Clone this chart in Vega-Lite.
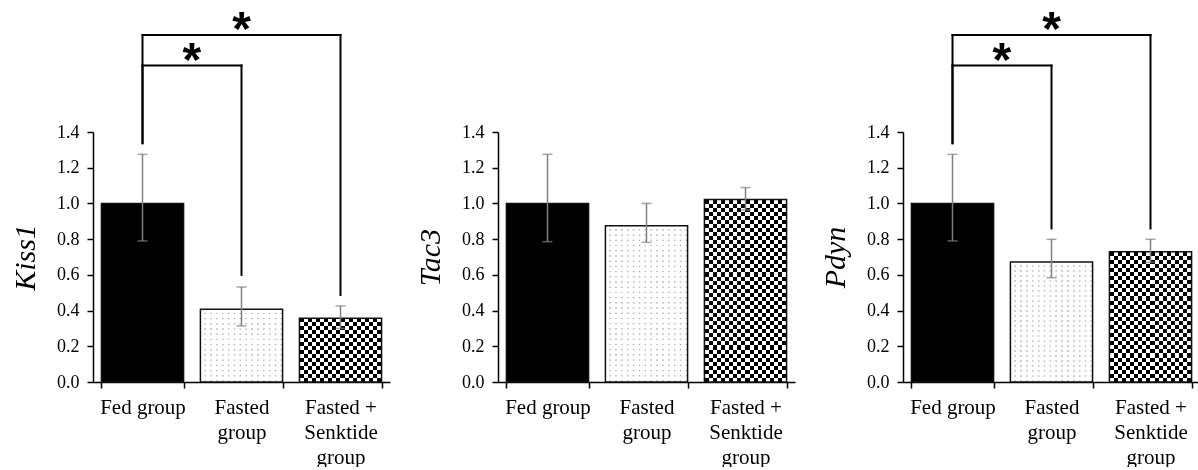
{
  "$schema": "https://vega.github.io/schema/vega-lite/v6.json",
  "background": "white",
  "padding": {"left": 10, "top": 7, "right": 0, "bottom": 0},
  "autosize": {"type": "pad"},
  "bounds": "flush",
  "spacing": 108,
  "datasets": {
    "bars": [
      {"gene": "Kiss1", "group": "Fed group", "mean": 1.0, "lo": 0.79, "hi": 1.275},
      {"gene": "Kiss1", "group": "Fasted group", "mean": 0.407, "lo": 0.314, "hi": 0.532},
      {"gene": "Kiss1", "group": "Fasted + Senktide group", "mean": 0.357, "lo": 0.3, "hi": 0.426},
      {"gene": "Tac3", "group": "Fed group", "mean": 1.0, "lo": 0.786, "hi": 1.275},
      {"gene": "Tac3", "group": "Fasted group", "mean": 0.875, "lo": 0.782, "hi": 1.0},
      {"gene": "Tac3", "group": "Fasted + Senktide group", "mean": 1.022, "lo": 0.963, "hi": 1.089},
      {"gene": "Pdyn", "group": "Fed group", "mean": 1.0, "lo": 0.79, "hi": 1.275},
      {"gene": "Pdyn", "group": "Fasted group", "mean": 0.672, "lo": 0.584, "hi": 0.799},
      {"gene": "Pdyn", "group": "Fasted + Senktide group", "mean": 0.73, "lo": 0.67, "hi": 0.799}
    ],
    "brackets": [
      {"gene": "Kiss1", "from": "Fed group", "to": "Fasted + Senktide group", "top": 1.943, "lb": 1.337, "rb": 0.487},
      {"gene": "Kiss1", "from": "Fed group", "to": "Fasted group", "top": 1.772, "lb": 1.337, "rb": 0.6},
      {"gene": "Pdyn", "from": "Fed group", "to": "Fasted + Senktide group", "top": 1.943, "lb": 1.337, "rb": 0.86},
      {"gene": "Pdyn", "from": "Fed group", "to": "Fasted group", "top": 1.772, "lb": 1.337, "rb": 0.86}
    ],
    "stars": [
      {"gene": "Kiss1", "which": "outer", "at": "Fasted group", "y": 1.887, "label": "*"},
      {"gene": "Kiss1", "which": "inner", "at": "Fed group", "y": 1.711, "label": "*"},
      {"gene": "Pdyn", "which": "outer", "at": "Fasted group", "y": 1.887, "label": "*"},
      {"gene": "Pdyn", "which": "inner", "at": "Fed group", "y": 1.711, "label": "*"}
    ]
  },
  "config": {
    "view": {"stroke": null},
    "axis": {
      "labelFont": "Liberation Serif",
      "titleFont": "Liberation Serif",
      "labelColor": "black",
      "titleColor": "black",
      "domainColor": "black",
      "tickColor": "black",
      "domainWidth": 1.5,
      "tickWidth": 1.5,
      "grid": false
    },
    "axisY": {"labelOverlap": false, "tickCount": 10, "labelFontSize": 18, "tickSize": 6, "labelPadding": 8, "titleFontSize": 30, "titleFontStyle": "italic", "titleFontWeight": "normal", "titlePadding": 16}
  },
  "hconcat": [
    {
      "width": 297, "height": 250,
      "layer": [
        {
          "data": {"name": "bars"},
          "transform": [{"filter": "datum.gene == 'Kiss1' && datum.group == 'Fasted + Senktide group'"}],
          "mark": {"type": "bar", "fill": {"gradient": "linear", "x1": 0, "y1": 0, "x2": 0, "y2": 1, "stops": [
            {"offset": 0, "color": "#000"}, {"offset": 0.0625, "color": "#000"}, {"offset": 0.0625, "color": "#fff"}, {"offset": 0.125, "color": "#fff"},
            {"offset": 0.125, "color": "#000"}, {"offset": 0.1875, "color": "#000"}, {"offset": 0.1875, "color": "#fff"}, {"offset": 0.25, "color": "#fff"},
            {"offset": 0.25, "color": "#000"}, {"offset": 0.3125, "color": "#000"}, {"offset": 0.3125, "color": "#fff"}, {"offset": 0.375, "color": "#fff"},
            {"offset": 0.375, "color": "#000"}, {"offset": 0.4375, "color": "#000"}, {"offset": 0.4375, "color": "#fff"}, {"offset": 0.5, "color": "#fff"},
            {"offset": 0.5, "color": "#000"}, {"offset": 0.5625, "color": "#000"}, {"offset": 0.5625, "color": "#fff"}, {"offset": 0.625, "color": "#fff"},
            {"offset": 0.625, "color": "#000"}, {"offset": 0.6875, "color": "#000"}, {"offset": 0.6875, "color": "#fff"}, {"offset": 0.75, "color": "#fff"},
            {"offset": 0.75, "color": "#000"}, {"offset": 0.8125, "color": "#000"}, {"offset": 0.8125, "color": "#fff"}, {"offset": 0.875, "color": "#fff"},
            {"offset": 0.875, "color": "#000"}, {"offset": 0.9375, "color": "#000"}, {"offset": 0.9375, "color": "#fff"}, {"offset": 1, "color": "#fff"}]}},
          "encoding": {
            "x": {"field": "group", "type": "nominal", "sort": null,
              "scale": {"domain": ["Fed group", "Fasted group", "Fasted + Senktide group"], "paddingInner": 0.17, "paddingOuter": 0.085},
              "axis": {"title": null, "labelAngle": 0, "tickBand": "extent", "tickSize": 6, "labelPadding": 8, "labelFontSize": 21, "labelLineHeight": 25,
                "labelExpr": "datum.value == 'Fed group' ? 'Fed group' : datum.value == 'Fasted group' ? ['Fasted', 'group'] : datum.value == 'Fasted + Senktide group' ? ['Fasted +', 'Senktide', 'group'] : ''"}},
            "y": {"field": "mean", "type": "quantitative", "scale": {"domain": [0, 1.4]},
              "axis": {"title": "Kiss1", "values": [0, 0.2, 0.4, 0.6, 0.8, 1.0, 1.2, 1.4], "tickCount": 10, "format": ".1f", "labelOverlap": false}}
          }
        },
        {
          "data": {"name": "bars"},
          "transform": [{"filter": "datum.gene == 'Kiss1' && datum.group == 'Fasted + Senktide group'"}],
          "mark": {"type": "bar", "blend": "difference", "fill": {"gradient": "linear", "x1": 0, "y1": 0, "x2": 1, "y2": 0, "stops": [
            {"offset": 0, "color": "#000"}, {"offset": 0.05, "color": "#000"}, {"offset": 0.05, "color": "#fff"}, {"offset": 0.1, "color": "#fff"},
            {"offset": 0.1, "color": "#000"}, {"offset": 0.15, "color": "#000"}, {"offset": 0.15, "color": "#fff"}, {"offset": 0.2, "color": "#fff"},
            {"offset": 0.2, "color": "#000"}, {"offset": 0.25, "color": "#000"}, {"offset": 0.25, "color": "#fff"}, {"offset": 0.3, "color": "#fff"},
            {"offset": 0.3, "color": "#000"}, {"offset": 0.35, "color": "#000"}, {"offset": 0.35, "color": "#fff"}, {"offset": 0.4, "color": "#fff"},
            {"offset": 0.4, "color": "#000"}, {"offset": 0.45, "color": "#000"}, {"offset": 0.45, "color": "#fff"}, {"offset": 0.5, "color": "#fff"},
            {"offset": 0.5, "color": "#000"}, {"offset": 0.55, "color": "#000"}, {"offset": 0.55, "color": "#fff"}, {"offset": 0.6, "color": "#fff"},
            {"offset": 0.6, "color": "#000"}, {"offset": 0.65, "color": "#000"}, {"offset": 0.65, "color": "#fff"}, {"offset": 0.7, "color": "#fff"},
            {"offset": 0.7, "color": "#000"}, {"offset": 0.75, "color": "#000"}, {"offset": 0.75, "color": "#fff"}, {"offset": 0.8, "color": "#fff"},
            {"offset": 0.8, "color": "#000"}, {"offset": 0.85, "color": "#000"}, {"offset": 0.85, "color": "#fff"}, {"offset": 0.9, "color": "#fff"},
            {"offset": 0.9, "color": "#000"}, {"offset": 0.95, "color": "#000"}, {"offset": 0.95, "color": "#fff"}, {"offset": 1, "color": "#fff"}]}},
          "encoding": {
            "x": {"field": "group", "type": "nominal", "sort": null},
            "y": {"field": "mean", "type": "quantitative", "scale": {"domain": [0, 1.4]}}
          }
        },
        {
          "data": {"name": "bars"},
          "transform": [{"filter": "datum.gene == 'Kiss1' && datum.group == 'Fasted group'"}],
          "mark": {"type": "bar", "fill": {"gradient": "linear", "x1": 0, "y1": 0, "x2": 0, "y2": 1, "stops": [
            {"offset": 0, "color": "#fff"}, {"offset": 0.0429, "color": "#fff"}, {"offset": 0.0571, "color": "#a0a0a0"},
            {"offset": 0.0714, "color": "#fff"}, {"offset": 0.1143, "color": "#fff"}, {"offset": 0.1286, "color": "#a0a0a0"},
            {"offset": 0.1429, "color": "#fff"}, {"offset": 0.1857, "color": "#fff"}, {"offset": 0.2, "color": "#a0a0a0"},
            {"offset": 0.2143, "color": "#fff"}, {"offset": 0.2571, "color": "#fff"}, {"offset": 0.2714, "color": "#a0a0a0"},
            {"offset": 0.2857, "color": "#fff"}, {"offset": 0.3286, "color": "#fff"}, {"offset": 0.3429, "color": "#a0a0a0"},
            {"offset": 0.3571, "color": "#fff"}, {"offset": 0.4, "color": "#fff"}, {"offset": 0.4143, "color": "#a0a0a0"},
            {"offset": 0.4286, "color": "#fff"}, {"offset": 0.4714, "color": "#fff"}, {"offset": 0.4857, "color": "#a0a0a0"},
            {"offset": 0.5, "color": "#fff"}, {"offset": 0.5429, "color": "#fff"}, {"offset": 0.5571, "color": "#a0a0a0"},
            {"offset": 0.5714, "color": "#fff"}, {"offset": 0.6143, "color": "#fff"}, {"offset": 0.6286, "color": "#a0a0a0"},
            {"offset": 0.6429, "color": "#fff"}, {"offset": 0.6857, "color": "#fff"}, {"offset": 0.7, "color": "#a0a0a0"},
            {"offset": 0.7143, "color": "#fff"}, {"offset": 0.7571, "color": "#fff"}, {"offset": 0.7714, "color": "#a0a0a0"},
            {"offset": 0.7857, "color": "#fff"}, {"offset": 0.8286, "color": "#fff"}, {"offset": 0.8429, "color": "#a0a0a0"},
            {"offset": 0.8571, "color": "#fff"}, {"offset": 0.9, "color": "#fff"}, {"offset": 0.9143, "color": "#a0a0a0"},
            {"offset": 0.9286, "color": "#fff"}, {"offset": 0.9714, "color": "#fff"}, {"offset": 0.9857, "color": "#a0a0a0"},
            {"offset": 1, "color": "#fff"}]}},
          "encoding": {
            "x": {"field": "group", "type": "nominal", "sort": null},
            "y": {"field": "mean", "type": "quantitative", "scale": {"domain": [0, 1.4]}}
          }
        },
        {
          "data": {"name": "bars"},
          "transform": [{"filter": "datum.gene == 'Kiss1' && datum.group == 'Fasted group'"}],
          "mark": {"type": "bar", "blend": "lighten", "fill": {"gradient": "linear", "x1": 0, "y1": 0, "x2": 1, "y2": 0, "stops": [
            {"offset": 0, "color": "#fff"}, {"offset": 0.0429, "color": "#fff"}, {"offset": 0.0571, "color": "#a0a0a0"},
            {"offset": 0.0714, "color": "#fff"}, {"offset": 0.1143, "color": "#fff"}, {"offset": 0.1286, "color": "#a0a0a0"},
            {"offset": 0.1429, "color": "#fff"}, {"offset": 0.1857, "color": "#fff"}, {"offset": 0.2, "color": "#a0a0a0"},
            {"offset": 0.2143, "color": "#fff"}, {"offset": 0.2571, "color": "#fff"}, {"offset": 0.2714, "color": "#a0a0a0"},
            {"offset": 0.2857, "color": "#fff"}, {"offset": 0.3286, "color": "#fff"}, {"offset": 0.3429, "color": "#a0a0a0"},
            {"offset": 0.3571, "color": "#fff"}, {"offset": 0.4, "color": "#fff"}, {"offset": 0.4143, "color": "#a0a0a0"},
            {"offset": 0.4286, "color": "#fff"}, {"offset": 0.4714, "color": "#fff"}, {"offset": 0.4857, "color": "#a0a0a0"},
            {"offset": 0.5, "color": "#fff"}, {"offset": 0.5429, "color": "#fff"}, {"offset": 0.5571, "color": "#a0a0a0"},
            {"offset": 0.5714, "color": "#fff"}, {"offset": 0.6143, "color": "#fff"}, {"offset": 0.6286, "color": "#a0a0a0"},
            {"offset": 0.6429, "color": "#fff"}, {"offset": 0.6857, "color": "#fff"}, {"offset": 0.7, "color": "#a0a0a0"},
            {"offset": 0.7143, "color": "#fff"}, {"offset": 0.7571, "color": "#fff"}, {"offset": 0.7714, "color": "#a0a0a0"},
            {"offset": 0.7857, "color": "#fff"}, {"offset": 0.8286, "color": "#fff"}, {"offset": 0.8429, "color": "#a0a0a0"},
            {"offset": 0.8571, "color": "#fff"}, {"offset": 0.9, "color": "#fff"}, {"offset": 0.9143, "color": "#a0a0a0"},
            {"offset": 0.9286, "color": "#fff"}, {"offset": 0.9714, "color": "#fff"}, {"offset": 0.9857, "color": "#a0a0a0"},
            {"offset": 1, "color": "#fff"}]}},
          "encoding": {
            "x": {"field": "group", "type": "nominal", "sort": null},
            "y": {"field": "mean", "type": "quantitative", "scale": {"domain": [0, 1.4]}}
          }
        },
        {
          "data": {"name": "bars"},
          "transform": [{"filter": "datum.gene == 'Kiss1'"}],
          "mark": {"type": "bar", "stroke": "#111", "strokeWidth": 1.5},
          "encoding": {
            "x": {"field": "group", "type": "nominal", "sort": null},
            "y": {"field": "mean", "type": "quantitative", "scale": {"domain": [0, 1.4]}},
            "fill": {"field": "group", "type": "nominal", "legend": null,
              "scale": {"domain": ["Fed group", "Fasted group", "Fasted + Senktide group"], "range": ["#000000", "transparent", "transparent"]}}
          }
        },
        {
          "data": {"name": "bars"},
          "transform": [{"filter": "datum.gene == 'Kiss1'"}],
          "mark": {"type": "rule", "color": "#808080", "strokeWidth": 1.5},
          "encoding": {
            "x": {"field": "group", "type": "nominal", "sort": null},
            "y": {"field": "lo", "type": "quantitative", "scale": {"domain": [0, 1.4]}},
            "y2": {"field": "hi"}
          }
        },
        {
          "data": {"name": "bars"},
          "transform": [{"filter": "datum.gene == 'Kiss1'"}, {"fold": ["lo", "hi"], "as": ["k", "v"]}],
          "mark": {"type": "tick", "color": "#808080", "thickness": 1.5, "size": 10},
          "encoding": {
            "x": {"field": "group", "type": "nominal", "sort": null},
            "y": {"field": "v", "type": "quantitative", "scale": {"domain": [0, 1.4]}}
          }
        },
        {
          "data": {"name": "brackets"},
          "transform": [{"filter": "datum.gene == 'Kiss1'"}],
          "mark": {"type": "rule", "color": "black", "strokeWidth": 2, "strokeCap": "square"},
          "encoding": {
            "x": {"field": "from", "type": "nominal", "bandPosition": 0.5},
            "x2": {"field": "to", "bandPosition": 0.5},
            "y": {"field": "top", "type": "quantitative", "scale": {"domain": [0, 1.4]}}
          }
        },
        {
          "data": {"name": "brackets"},
          "transform": [{"filter": "datum.gene == 'Kiss1'"}],
          "mark": {"type": "rule", "color": "black", "strokeWidth": 2, "strokeCap": "square"},
          "encoding": {
            "x": {"field": "from", "type": "nominal", "bandPosition": 0.5},
            "y": {"field": "top", "type": "quantitative", "scale": {"domain": [0, 1.4]}},
            "y2": {"field": "lb"}
          }
        },
        {
          "data": {"name": "brackets"},
          "transform": [{"filter": "datum.gene == 'Kiss1'"}],
          "mark": {"type": "rule", "color": "black", "strokeWidth": 2, "strokeCap": "square"},
          "encoding": {
            "x": {"field": "to", "type": "nominal", "bandPosition": 0.5},
            "y": {"field": "top", "type": "quantitative", "scale": {"domain": [0, 1.4]}},
            "y2": {"field": "rb"}
          }
        },
        {
          "data": {"name": "stars"},
          "transform": [{"filter": "datum.gene == 'Kiss1' && datum.which == 'outer'"}],
          "mark": {"type": "text", "font": "Liberation Sans", "fontWeight": "bold", "fontSize": 48, "baseline": "alphabetic", "align": "center", "color": "black"},
          "encoding": {
            "x": {"field": "at", "type": "nominal", "bandPosition": 0.5},
            "y": {"field": "y", "type": "quantitative", "scale": {"domain": [0, 1.4]}},
            "text": {"field": "label"}
          }
        },
        {
          "data": {"name": "stars"},
          "transform": [{"filter": "datum.gene == 'Kiss1' && datum.which == 'inner'"}],
          "mark": {"type": "text", "font": "Liberation Sans", "fontWeight": "bold", "fontSize": 48, "baseline": "alphabetic", "align": "center", "color": "black"},
          "encoding": {
            "x": {"field": "at", "type": "nominal", "bandPosition": 1.102},
            "y": {"field": "y", "type": "quantitative", "scale": {"domain": [0, 1.4]}},
            "text": {"field": "label"}
          }
        }
      ]
    },
    {
      "width": 297, "height": 250,
      "layer": [
        {
          "data": {"name": "bars"},
          "transform": [{"filter": "datum.gene == 'Tac3' && datum.group == 'Fasted + Senktide group'"}],
          "mark": {"type": "bar", "fill": {"gradient": "linear", "x1": 0, "y1": 0, "x2": 0, "y2": 1, "stops": [
            {"offset": 0, "color": "#000"}, {"offset": 0.0222, "color": "#000"}, {"offset": 0.0222, "color": "#fff"}, {"offset": 0.0444, "color": "#fff"},
            {"offset": 0.0444, "color": "#000"}, {"offset": 0.0667, "color": "#000"}, {"offset": 0.0667, "color": "#fff"}, {"offset": 0.0889, "color": "#fff"},
            {"offset": 0.0889, "color": "#000"}, {"offset": 0.1111, "color": "#000"}, {"offset": 0.1111, "color": "#fff"}, {"offset": 0.1333, "color": "#fff"},
            {"offset": 0.1333, "color": "#000"}, {"offset": 0.1556, "color": "#000"}, {"offset": 0.1556, "color": "#fff"}, {"offset": 0.1778, "color": "#fff"},
            {"offset": 0.1778, "color": "#000"}, {"offset": 0.2, "color": "#000"}, {"offset": 0.2, "color": "#fff"}, {"offset": 0.2222, "color": "#fff"},
            {"offset": 0.2222, "color": "#000"}, {"offset": 0.2444, "color": "#000"}, {"offset": 0.2444, "color": "#fff"}, {"offset": 0.2667, "color": "#fff"},
            {"offset": 0.2667, "color": "#000"}, {"offset": 0.2889, "color": "#000"}, {"offset": 0.2889, "color": "#fff"}, {"offset": 0.3111, "color": "#fff"},
            {"offset": 0.3111, "color": "#000"}, {"offset": 0.3333, "color": "#000"}, {"offset": 0.3333, "color": "#fff"}, {"offset": 0.3556, "color": "#fff"},
            {"offset": 0.3556, "color": "#000"}, {"offset": 0.3778, "color": "#000"}, {"offset": 0.3778, "color": "#fff"}, {"offset": 0.4, "color": "#fff"},
            {"offset": 0.4, "color": "#000"}, {"offset": 0.4222, "color": "#000"}, {"offset": 0.4222, "color": "#fff"}, {"offset": 0.4444, "color": "#fff"},
            {"offset": 0.4444, "color": "#000"}, {"offset": 0.4667, "color": "#000"}, {"offset": 0.4667, "color": "#fff"}, {"offset": 0.4889, "color": "#fff"},
            {"offset": 0.4889, "color": "#000"}, {"offset": 0.5111, "color": "#000"}, {"offset": 0.5111, "color": "#fff"}, {"offset": 0.5333, "color": "#fff"},
            {"offset": 0.5333, "color": "#000"}, {"offset": 0.5556, "color": "#000"}, {"offset": 0.5556, "color": "#fff"}, {"offset": 0.5778, "color": "#fff"},
            {"offset": 0.5778, "color": "#000"}, {"offset": 0.6, "color": "#000"}, {"offset": 0.6, "color": "#fff"}, {"offset": 0.6222, "color": "#fff"},
            {"offset": 0.6222, "color": "#000"}, {"offset": 0.6444, "color": "#000"}, {"offset": 0.6444, "color": "#fff"}, {"offset": 0.6667, "color": "#fff"},
            {"offset": 0.6667, "color": "#000"}, {"offset": 0.6889, "color": "#000"}, {"offset": 0.6889, "color": "#fff"}, {"offset": 0.7111, "color": "#fff"},
            {"offset": 0.7111, "color": "#000"}, {"offset": 0.7333, "color": "#000"}, {"offset": 0.7333, "color": "#fff"}, {"offset": 0.7556, "color": "#fff"},
            {"offset": 0.7556, "color": "#000"}, {"offset": 0.7778, "color": "#000"}, {"offset": 0.7778, "color": "#fff"}, {"offset": 0.8, "color": "#fff"},
            {"offset": 0.8, "color": "#000"}, {"offset": 0.8222, "color": "#000"}, {"offset": 0.8222, "color": "#fff"}, {"offset": 0.8444, "color": "#fff"},
            {"offset": 0.8444, "color": "#000"}, {"offset": 0.8667, "color": "#000"}, {"offset": 0.8667, "color": "#fff"}, {"offset": 0.8889, "color": "#fff"},
            {"offset": 0.8889, "color": "#000"}, {"offset": 0.9111, "color": "#000"}, {"offset": 0.9111, "color": "#fff"}, {"offset": 0.9333, "color": "#fff"},
            {"offset": 0.9333, "color": "#000"}, {"offset": 0.9556, "color": "#000"}, {"offset": 0.9556, "color": "#fff"}, {"offset": 0.9778, "color": "#fff"},
            {"offset": 0.9778, "color": "#000"}, {"offset": 1, "color": "#000"}]}},
          "encoding": {
            "x": {"field": "group", "type": "nominal", "sort": null,
              "scale": {"domain": ["Fed group", "Fasted group", "Fasted + Senktide group"], "paddingInner": 0.17, "paddingOuter": 0.085},
              "axis": {"title": null, "labelAngle": 0, "tickBand": "extent", "tickSize": 6, "labelPadding": 8, "labelFontSize": 21, "labelLineHeight": 25,
                "labelExpr": "datum.value == 'Fed group' ? 'Fed group' : datum.value == 'Fasted group' ? ['Fasted', 'group'] : datum.value == 'Fasted + Senktide group' ? ['Fasted +', 'Senktide', 'group'] : ''"}},
            "y": {"field": "mean", "type": "quantitative", "scale": {"domain": [0, 1.4]},
              "axis": {"title": "Tac3", "values": [0, 0.2, 0.4, 0.6, 0.8, 1.0, 1.2, 1.4], "tickCount": 10, "format": ".1f", "labelOverlap": false}}
          }
        },
        {
          "data": {"name": "bars"},
          "transform": [{"filter": "datum.gene == 'Tac3' && datum.group == 'Fasted + Senktide group'"}],
          "mark": {"type": "bar", "blend": "difference", "fill": {"gradient": "linear", "x1": 0, "y1": 0, "x2": 1, "y2": 0, "stops": [
            {"offset": 0, "color": "#000"}, {"offset": 0.05, "color": "#000"}, {"offset": 0.05, "color": "#fff"}, {"offset": 0.1, "color": "#fff"},
            {"offset": 0.1, "color": "#000"}, {"offset": 0.15, "color": "#000"}, {"offset": 0.15, "color": "#fff"}, {"offset": 0.2, "color": "#fff"},
            {"offset": 0.2, "color": "#000"}, {"offset": 0.25, "color": "#000"}, {"offset": 0.25, "color": "#fff"}, {"offset": 0.3, "color": "#fff"},
            {"offset": 0.3, "color": "#000"}, {"offset": 0.35, "color": "#000"}, {"offset": 0.35, "color": "#fff"}, {"offset": 0.4, "color": "#fff"},
            {"offset": 0.4, "color": "#000"}, {"offset": 0.45, "color": "#000"}, {"offset": 0.45, "color": "#fff"}, {"offset": 0.5, "color": "#fff"},
            {"offset": 0.5, "color": "#000"}, {"offset": 0.55, "color": "#000"}, {"offset": 0.55, "color": "#fff"}, {"offset": 0.6, "color": "#fff"},
            {"offset": 0.6, "color": "#000"}, {"offset": 0.65, "color": "#000"}, {"offset": 0.65, "color": "#fff"}, {"offset": 0.7, "color": "#fff"},
            {"offset": 0.7, "color": "#000"}, {"offset": 0.75, "color": "#000"}, {"offset": 0.75, "color": "#fff"}, {"offset": 0.8, "color": "#fff"},
            {"offset": 0.8, "color": "#000"}, {"offset": 0.85, "color": "#000"}, {"offset": 0.85, "color": "#fff"}, {"offset": 0.9, "color": "#fff"},
            {"offset": 0.9, "color": "#000"}, {"offset": 0.95, "color": "#000"}, {"offset": 0.95, "color": "#fff"}, {"offset": 1, "color": "#fff"}]}},
          "encoding": {
            "x": {"field": "group", "type": "nominal", "sort": null},
            "y": {"field": "mean", "type": "quantitative", "scale": {"domain": [0, 1.4]}}
          }
        },
        {
          "data": {"name": "bars"},
          "transform": [{"filter": "datum.gene == 'Tac3' && datum.group == 'Fasted group'"}],
          "mark": {"type": "bar", "fill": {"gradient": "linear", "x1": 0, "y1": 0, "x2": 0, "y2": 1, "stops": [
            {"offset": 0, "color": "#fff"}, {"offset": 0.02, "color": "#fff"}, {"offset": 0.0267, "color": "#a0a0a0"},
            {"offset": 0.0333, "color": "#fff"}, {"offset": 0.0533, "color": "#fff"}, {"offset": 0.06, "color": "#a0a0a0"},
            {"offset": 0.0667, "color": "#fff"}, {"offset": 0.0867, "color": "#fff"}, {"offset": 0.0933, "color": "#a0a0a0"},
            {"offset": 0.1, "color": "#fff"}, {"offset": 0.12, "color": "#fff"}, {"offset": 0.1267, "color": "#a0a0a0"},
            {"offset": 0.1333, "color": "#fff"}, {"offset": 0.1533, "color": "#fff"}, {"offset": 0.16, "color": "#a0a0a0"},
            {"offset": 0.1667, "color": "#fff"}, {"offset": 0.1867, "color": "#fff"}, {"offset": 0.1933, "color": "#a0a0a0"},
            {"offset": 0.2, "color": "#fff"}, {"offset": 0.22, "color": "#fff"}, {"offset": 0.2267, "color": "#a0a0a0"},
            {"offset": 0.2333, "color": "#fff"}, {"offset": 0.2533, "color": "#fff"}, {"offset": 0.26, "color": "#a0a0a0"},
            {"offset": 0.2667, "color": "#fff"}, {"offset": 0.2867, "color": "#fff"}, {"offset": 0.2933, "color": "#a0a0a0"},
            {"offset": 0.3, "color": "#fff"}, {"offset": 0.32, "color": "#fff"}, {"offset": 0.3267, "color": "#a0a0a0"},
            {"offset": 0.3333, "color": "#fff"}, {"offset": 0.3533, "color": "#fff"}, {"offset": 0.36, "color": "#a0a0a0"},
            {"offset": 0.3667, "color": "#fff"}, {"offset": 0.3867, "color": "#fff"}, {"offset": 0.3933, "color": "#a0a0a0"},
            {"offset": 0.4, "color": "#fff"}, {"offset": 0.42, "color": "#fff"}, {"offset": 0.4267, "color": "#a0a0a0"},
            {"offset": 0.4333, "color": "#fff"}, {"offset": 0.4533, "color": "#fff"}, {"offset": 0.46, "color": "#a0a0a0"},
            {"offset": 0.4667, "color": "#fff"}, {"offset": 0.4867, "color": "#fff"}, {"offset": 0.4933, "color": "#a0a0a0"},
            {"offset": 0.5, "color": "#fff"}, {"offset": 0.52, "color": "#fff"}, {"offset": 0.5267, "color": "#a0a0a0"},
            {"offset": 0.5333, "color": "#fff"}, {"offset": 0.5533, "color": "#fff"}, {"offset": 0.56, "color": "#a0a0a0"},
            {"offset": 0.5667, "color": "#fff"}, {"offset": 0.5867, "color": "#fff"}, {"offset": 0.5933, "color": "#a0a0a0"},
            {"offset": 0.6, "color": "#fff"}, {"offset": 0.62, "color": "#fff"}, {"offset": 0.6267, "color": "#a0a0a0"},
            {"offset": 0.6333, "color": "#fff"}, {"offset": 0.6533, "color": "#fff"}, {"offset": 0.66, "color": "#a0a0a0"},
            {"offset": 0.6667, "color": "#fff"}, {"offset": 0.6867, "color": "#fff"}, {"offset": 0.6933, "color": "#a0a0a0"},
            {"offset": 0.7, "color": "#fff"}, {"offset": 0.72, "color": "#fff"}, {"offset": 0.7267, "color": "#a0a0a0"},
            {"offset": 0.7333, "color": "#fff"}, {"offset": 0.7533, "color": "#fff"}, {"offset": 0.76, "color": "#a0a0a0"},
            {"offset": 0.7667, "color": "#fff"}, {"offset": 0.7867, "color": "#fff"}, {"offset": 0.7933, "color": "#a0a0a0"},
            {"offset": 0.8, "color": "#fff"}, {"offset": 0.82, "color": "#fff"}, {"offset": 0.8267, "color": "#a0a0a0"},
            {"offset": 0.8333, "color": "#fff"}, {"offset": 0.8533, "color": "#fff"}, {"offset": 0.86, "color": "#a0a0a0"},
            {"offset": 0.8667, "color": "#fff"}, {"offset": 0.8867, "color": "#fff"}, {"offset": 0.8933, "color": "#a0a0a0"},
            {"offset": 0.9, "color": "#fff"}, {"offset": 0.92, "color": "#fff"}, {"offset": 0.9267, "color": "#a0a0a0"},
            {"offset": 0.9333, "color": "#fff"}, {"offset": 0.9533, "color": "#fff"}, {"offset": 0.96, "color": "#a0a0a0"},
            {"offset": 0.9667, "color": "#fff"}, {"offset": 0.9867, "color": "#fff"}, {"offset": 0.9933, "color": "#a0a0a0"},
            {"offset": 1, "color": "#fff"}]}},
          "encoding": {
            "x": {"field": "group", "type": "nominal", "sort": null},
            "y": {"field": "mean", "type": "quantitative", "scale": {"domain": [0, 1.4]}}
          }
        },
        {
          "data": {"name": "bars"},
          "transform": [{"filter": "datum.gene == 'Tac3' && datum.group == 'Fasted group'"}],
          "mark": {"type": "bar", "blend": "lighten", "fill": {"gradient": "linear", "x1": 0, "y1": 0, "x2": 1, "y2": 0, "stops": [
            {"offset": 0, "color": "#fff"}, {"offset": 0.0429, "color": "#fff"}, {"offset": 0.0571, "color": "#a0a0a0"},
            {"offset": 0.0714, "color": "#fff"}, {"offset": 0.1143, "color": "#fff"}, {"offset": 0.1286, "color": "#a0a0a0"},
            {"offset": 0.1429, "color": "#fff"}, {"offset": 0.1857, "color": "#fff"}, {"offset": 0.2, "color": "#a0a0a0"},
            {"offset": 0.2143, "color": "#fff"}, {"offset": 0.2571, "color": "#fff"}, {"offset": 0.2714, "color": "#a0a0a0"},
            {"offset": 0.2857, "color": "#fff"}, {"offset": 0.3286, "color": "#fff"}, {"offset": 0.3429, "color": "#a0a0a0"},
            {"offset": 0.3571, "color": "#fff"}, {"offset": 0.4, "color": "#fff"}, {"offset": 0.4143, "color": "#a0a0a0"},
            {"offset": 0.4286, "color": "#fff"}, {"offset": 0.4714, "color": "#fff"}, {"offset": 0.4857, "color": "#a0a0a0"},
            {"offset": 0.5, "color": "#fff"}, {"offset": 0.5429, "color": "#fff"}, {"offset": 0.5571, "color": "#a0a0a0"},
            {"offset": 0.5714, "color": "#fff"}, {"offset": 0.6143, "color": "#fff"}, {"offset": 0.6286, "color": "#a0a0a0"},
            {"offset": 0.6429, "color": "#fff"}, {"offset": 0.6857, "color": "#fff"}, {"offset": 0.7, "color": "#a0a0a0"},
            {"offset": 0.7143, "color": "#fff"}, {"offset": 0.7571, "color": "#fff"}, {"offset": 0.7714, "color": "#a0a0a0"},
            {"offset": 0.7857, "color": "#fff"}, {"offset": 0.8286, "color": "#fff"}, {"offset": 0.8429, "color": "#a0a0a0"},
            {"offset": 0.8571, "color": "#fff"}, {"offset": 0.9, "color": "#fff"}, {"offset": 0.9143, "color": "#a0a0a0"},
            {"offset": 0.9286, "color": "#fff"}, {"offset": 0.9714, "color": "#fff"}, {"offset": 0.9857, "color": "#a0a0a0"},
            {"offset": 1, "color": "#fff"}]}},
          "encoding": {
            "x": {"field": "group", "type": "nominal", "sort": null},
            "y": {"field": "mean", "type": "quantitative", "scale": {"domain": [0, 1.4]}}
          }
        },
        {
          "data": {"name": "bars"},
          "transform": [{"filter": "datum.gene == 'Tac3'"}],
          "mark": {"type": "bar", "stroke": "#111", "strokeWidth": 1.5},
          "encoding": {
            "x": {"field": "group", "type": "nominal", "sort": null},
            "y": {"field": "mean", "type": "quantitative", "scale": {"domain": [0, 1.4]}},
            "fill": {"field": "group", "type": "nominal", "legend": null,
              "scale": {"domain": ["Fed group", "Fasted group", "Fasted + Senktide group"], "range": ["#000000", "transparent", "transparent"]}}
          }
        },
        {
          "data": {"name": "bars"},
          "transform": [{"filter": "datum.gene == 'Tac3'"}],
          "mark": {"type": "rule", "color": "#808080", "strokeWidth": 1.5},
          "encoding": {
            "x": {"field": "group", "type": "nominal", "sort": null},
            "y": {"field": "lo", "type": "quantitative", "scale": {"domain": [0, 1.4]}},
            "y2": {"field": "hi"}
          }
        },
        {
          "data": {"name": "bars"},
          "transform": [{"filter": "datum.gene == 'Tac3'"}, {"fold": ["lo", "hi"], "as": ["k", "v"]}],
          "mark": {"type": "tick", "color": "#808080", "thickness": 1.5, "size": 10},
          "encoding": {
            "x": {"field": "group", "type": "nominal", "sort": null},
            "y": {"field": "v", "type": "quantitative", "scale": {"domain": [0, 1.4]}}
          }
        }
      ]
    },
    {
      "width": 297, "height": 250,
      "layer": [
        {
          "data": {"name": "bars"},
          "transform": [{"filter": "datum.gene == 'Pdyn' && datum.group == 'Fasted + Senktide group'"}],
          "mark": {"type": "bar", "fill": {"gradient": "linear", "x1": 0, "y1": 0, "x2": 0, "y2": 1, "stops": [
            {"offset": 0, "color": "#000"}, {"offset": 0.03125, "color": "#000"}, {"offset": 0.03125, "color": "#fff"}, {"offset": 0.0625, "color": "#fff"},
            {"offset": 0.0625, "color": "#000"}, {"offset": 0.09375, "color": "#000"}, {"offset": 0.09375, "color": "#fff"}, {"offset": 0.125, "color": "#fff"},
            {"offset": 0.125, "color": "#000"}, {"offset": 0.15625, "color": "#000"}, {"offset": 0.15625, "color": "#fff"}, {"offset": 0.1875, "color": "#fff"},
            {"offset": 0.1875, "color": "#000"}, {"offset": 0.21875, "color": "#000"}, {"offset": 0.21875, "color": "#fff"}, {"offset": 0.25, "color": "#fff"},
            {"offset": 0.25, "color": "#000"}, {"offset": 0.28125, "color": "#000"}, {"offset": 0.28125, "color": "#fff"}, {"offset": 0.3125, "color": "#fff"},
            {"offset": 0.3125, "color": "#000"}, {"offset": 0.34375, "color": "#000"}, {"offset": 0.34375, "color": "#fff"}, {"offset": 0.375, "color": "#fff"},
            {"offset": 0.375, "color": "#000"}, {"offset": 0.40625, "color": "#000"}, {"offset": 0.40625, "color": "#fff"}, {"offset": 0.4375, "color": "#fff"},
            {"offset": 0.4375, "color": "#000"}, {"offset": 0.46875, "color": "#000"}, {"offset": 0.46875, "color": "#fff"}, {"offset": 0.5, "color": "#fff"},
            {"offset": 0.5, "color": "#000"}, {"offset": 0.53125, "color": "#000"}, {"offset": 0.53125, "color": "#fff"}, {"offset": 0.5625, "color": "#fff"},
            {"offset": 0.5625, "color": "#000"}, {"offset": 0.59375, "color": "#000"}, {"offset": 0.59375, "color": "#fff"}, {"offset": 0.625, "color": "#fff"},
            {"offset": 0.625, "color": "#000"}, {"offset": 0.65625, "color": "#000"}, {"offset": 0.65625, "color": "#fff"}, {"offset": 0.6875, "color": "#fff"},
            {"offset": 0.6875, "color": "#000"}, {"offset": 0.71875, "color": "#000"}, {"offset": 0.71875, "color": "#fff"}, {"offset": 0.75, "color": "#fff"},
            {"offset": 0.75, "color": "#000"}, {"offset": 0.78125, "color": "#000"}, {"offset": 0.78125, "color": "#fff"}, {"offset": 0.8125, "color": "#fff"},
            {"offset": 0.8125, "color": "#000"}, {"offset": 0.84375, "color": "#000"}, {"offset": 0.84375, "color": "#fff"}, {"offset": 0.875, "color": "#fff"},
            {"offset": 0.875, "color": "#000"}, {"offset": 0.90625, "color": "#000"}, {"offset": 0.90625, "color": "#fff"}, {"offset": 0.9375, "color": "#fff"},
            {"offset": 0.9375, "color": "#000"}, {"offset": 0.96875, "color": "#000"}, {"offset": 0.96875, "color": "#fff"}, {"offset": 1, "color": "#fff"}]}},
          "encoding": {
            "x": {"field": "group", "type": "nominal", "sort": null,
              "scale": {"domain": ["Fed group", "Fasted group", "Fasted + Senktide group"], "paddingInner": 0.17, "paddingOuter": 0.085},
              "axis": {"title": null, "labelAngle": 0, "tickBand": "extent", "tickSize": 6, "labelPadding": 8, "labelFontSize": 21, "labelLineHeight": 25,
                "labelExpr": "datum.value == 'Fed group' ? 'Fed group' : datum.value == 'Fasted group' ? ['Fasted', 'group'] : datum.value == 'Fasted + Senktide group' ? ['Fasted +', 'Senktide', 'group'] : ''"}},
            "y": {"field": "mean", "type": "quantitative", "scale": {"domain": [0, 1.4]},
              "axis": {"title": "Pdyn", "values": [0, 0.2, 0.4, 0.6, 0.8, 1.0, 1.2, 1.4], "tickCount": 10, "format": ".1f", "labelOverlap": false}}
          }
        },
        {
          "data": {"name": "bars"},
          "transform": [{"filter": "datum.gene == 'Pdyn' && datum.group == 'Fasted + Senktide group'"}],
          "mark": {"type": "bar", "blend": "difference", "fill": {"gradient": "linear", "x1": 0, "y1": 0, "x2": 1, "y2": 0, "stops": [
            {"offset": 0, "color": "#000"}, {"offset": 0.05, "color": "#000"}, {"offset": 0.05, "color": "#fff"}, {"offset": 0.1, "color": "#fff"},
            {"offset": 0.1, "color": "#000"}, {"offset": 0.15, "color": "#000"}, {"offset": 0.15, "color": "#fff"}, {"offset": 0.2, "color": "#fff"},
            {"offset": 0.2, "color": "#000"}, {"offset": 0.25, "color": "#000"}, {"offset": 0.25, "color": "#fff"}, {"offset": 0.3, "color": "#fff"},
            {"offset": 0.3, "color": "#000"}, {"offset": 0.35, "color": "#000"}, {"offset": 0.35, "color": "#fff"}, {"offset": 0.4, "color": "#fff"},
            {"offset": 0.4, "color": "#000"}, {"offset": 0.45, "color": "#000"}, {"offset": 0.45, "color": "#fff"}, {"offset": 0.5, "color": "#fff"},
            {"offset": 0.5, "color": "#000"}, {"offset": 0.55, "color": "#000"}, {"offset": 0.55, "color": "#fff"}, {"offset": 0.6, "color": "#fff"},
            {"offset": 0.6, "color": "#000"}, {"offset": 0.65, "color": "#000"}, {"offset": 0.65, "color": "#fff"}, {"offset": 0.7, "color": "#fff"},
            {"offset": 0.7, "color": "#000"}, {"offset": 0.75, "color": "#000"}, {"offset": 0.75, "color": "#fff"}, {"offset": 0.8, "color": "#fff"},
            {"offset": 0.8, "color": "#000"}, {"offset": 0.85, "color": "#000"}, {"offset": 0.85, "color": "#fff"}, {"offset": 0.9, "color": "#fff"},
            {"offset": 0.9, "color": "#000"}, {"offset": 0.95, "color": "#000"}, {"offset": 0.95, "color": "#fff"}, {"offset": 1, "color": "#fff"}]}},
          "encoding": {
            "x": {"field": "group", "type": "nominal", "sort": null},
            "y": {"field": "mean", "type": "quantitative", "scale": {"domain": [0, 1.4]}}
          }
        },
        {
          "data": {"name": "bars"},
          "transform": [{"filter": "datum.gene == 'Pdyn' && datum.group == 'Fasted group'"}],
          "mark": {"type": "bar", "fill": {"gradient": "linear", "x1": 0, "y1": 0, "x2": 0, "y2": 1, "stops": [
            {"offset": 0, "color": "#fff"}, {"offset": 0.025, "color": "#fff"}, {"offset": 0.0333, "color": "#a0a0a0"},
            {"offset": 0.0417, "color": "#fff"}, {"offset": 0.0667, "color": "#fff"}, {"offset": 0.075, "color": "#a0a0a0"},
            {"offset": 0.0833, "color": "#fff"}, {"offset": 0.1083, "color": "#fff"}, {"offset": 0.1167, "color": "#a0a0a0"},
            {"offset": 0.125, "color": "#fff"}, {"offset": 0.15, "color": "#fff"}, {"offset": 0.1583, "color": "#a0a0a0"},
            {"offset": 0.1667, "color": "#fff"}, {"offset": 0.1917, "color": "#fff"}, {"offset": 0.2, "color": "#a0a0a0"},
            {"offset": 0.2083, "color": "#fff"}, {"offset": 0.2333, "color": "#fff"}, {"offset": 0.2417, "color": "#a0a0a0"},
            {"offset": 0.25, "color": "#fff"}, {"offset": 0.275, "color": "#fff"}, {"offset": 0.2833, "color": "#a0a0a0"},
            {"offset": 0.2917, "color": "#fff"}, {"offset": 0.3167, "color": "#fff"}, {"offset": 0.325, "color": "#a0a0a0"},
            {"offset": 0.3333, "color": "#fff"}, {"offset": 0.3583, "color": "#fff"}, {"offset": 0.3667, "color": "#a0a0a0"},
            {"offset": 0.375, "color": "#fff"}, {"offset": 0.4, "color": "#fff"}, {"offset": 0.4083, "color": "#a0a0a0"},
            {"offset": 0.4167, "color": "#fff"}, {"offset": 0.4417, "color": "#fff"}, {"offset": 0.45, "color": "#a0a0a0"},
            {"offset": 0.4583, "color": "#fff"}, {"offset": 0.4833, "color": "#fff"}, {"offset": 0.4917, "color": "#a0a0a0"},
            {"offset": 0.5, "color": "#fff"}, {"offset": 0.525, "color": "#fff"}, {"offset": 0.5333, "color": "#a0a0a0"},
            {"offset": 0.5417, "color": "#fff"}, {"offset": 0.5667, "color": "#fff"}, {"offset": 0.575, "color": "#a0a0a0"},
            {"offset": 0.5833, "color": "#fff"}, {"offset": 0.6083, "color": "#fff"}, {"offset": 0.6167, "color": "#a0a0a0"},
            {"offset": 0.625, "color": "#fff"}, {"offset": 0.65, "color": "#fff"}, {"offset": 0.6583, "color": "#a0a0a0"},
            {"offset": 0.6667, "color": "#fff"}, {"offset": 0.6917, "color": "#fff"}, {"offset": 0.7, "color": "#a0a0a0"},
            {"offset": 0.7083, "color": "#fff"}, {"offset": 0.7333, "color": "#fff"}, {"offset": 0.7417, "color": "#a0a0a0"},
            {"offset": 0.75, "color": "#fff"}, {"offset": 0.775, "color": "#fff"}, {"offset": 0.7833, "color": "#a0a0a0"},
            {"offset": 0.7917, "color": "#fff"}, {"offset": 0.8167, "color": "#fff"}, {"offset": 0.825, "color": "#a0a0a0"},
            {"offset": 0.8333, "color": "#fff"}, {"offset": 0.8583, "color": "#fff"}, {"offset": 0.8667, "color": "#a0a0a0"},
            {"offset": 0.875, "color": "#fff"}, {"offset": 0.9, "color": "#fff"}, {"offset": 0.9083, "color": "#a0a0a0"},
            {"offset": 0.9167, "color": "#fff"}, {"offset": 0.9417, "color": "#fff"}, {"offset": 0.95, "color": "#a0a0a0"},
            {"offset": 0.9583, "color": "#fff"}, {"offset": 0.9833, "color": "#fff"}, {"offset": 0.9917, "color": "#a0a0a0"},
            {"offset": 1, "color": "#fff"}]}},
          "encoding": {
            "x": {"field": "group", "type": "nominal", "sort": null},
            "y": {"field": "mean", "type": "quantitative", "scale": {"domain": [0, 1.4]}}
          }
        },
        {
          "data": {"name": "bars"},
          "transform": [{"filter": "datum.gene == 'Pdyn' && datum.group == 'Fasted group'"}],
          "mark": {"type": "bar", "blend": "lighten", "fill": {"gradient": "linear", "x1": 0, "y1": 0, "x2": 1, "y2": 0, "stops": [
            {"offset": 0, "color": "#fff"}, {"offset": 0.0429, "color": "#fff"}, {"offset": 0.0571, "color": "#a0a0a0"},
            {"offset": 0.0714, "color": "#fff"}, {"offset": 0.1143, "color": "#fff"}, {"offset": 0.1286, "color": "#a0a0a0"},
            {"offset": 0.1429, "color": "#fff"}, {"offset": 0.1857, "color": "#fff"}, {"offset": 0.2, "color": "#a0a0a0"},
            {"offset": 0.2143, "color": "#fff"}, {"offset": 0.2571, "color": "#fff"}, {"offset": 0.2714, "color": "#a0a0a0"},
            {"offset": 0.2857, "color": "#fff"}, {"offset": 0.3286, "color": "#fff"}, {"offset": 0.3429, "color": "#a0a0a0"},
            {"offset": 0.3571, "color": "#fff"}, {"offset": 0.4, "color": "#fff"}, {"offset": 0.4143, "color": "#a0a0a0"},
            {"offset": 0.4286, "color": "#fff"}, {"offset": 0.4714, "color": "#fff"}, {"offset": 0.4857, "color": "#a0a0a0"},
            {"offset": 0.5, "color": "#fff"}, {"offset": 0.5429, "color": "#fff"}, {"offset": 0.5571, "color": "#a0a0a0"},
            {"offset": 0.5714, "color": "#fff"}, {"offset": 0.6143, "color": "#fff"}, {"offset": 0.6286, "color": "#a0a0a0"},
            {"offset": 0.6429, "color": "#fff"}, {"offset": 0.6857, "color": "#fff"}, {"offset": 0.7, "color": "#a0a0a0"},
            {"offset": 0.7143, "color": "#fff"}, {"offset": 0.7571, "color": "#fff"}, {"offset": 0.7714, "color": "#a0a0a0"},
            {"offset": 0.7857, "color": "#fff"}, {"offset": 0.8286, "color": "#fff"}, {"offset": 0.8429, "color": "#a0a0a0"},
            {"offset": 0.8571, "color": "#fff"}, {"offset": 0.9, "color": "#fff"}, {"offset": 0.9143, "color": "#a0a0a0"},
            {"offset": 0.9286, "color": "#fff"}, {"offset": 0.9714, "color": "#fff"}, {"offset": 0.9857, "color": "#a0a0a0"},
            {"offset": 1, "color": "#fff"}]}},
          "encoding": {
            "x": {"field": "group", "type": "nominal", "sort": null},
            "y": {"field": "mean", "type": "quantitative", "scale": {"domain": [0, 1.4]}}
          }
        },
        {
          "data": {"name": "bars"},
          "transform": [{"filter": "datum.gene == 'Pdyn'"}],
          "mark": {"type": "bar", "stroke": "#111", "strokeWidth": 1.5},
          "encoding": {
            "x": {"field": "group", "type": "nominal", "sort": null},
            "y": {"field": "mean", "type": "quantitative", "scale": {"domain": [0, 1.4]}},
            "fill": {"field": "group", "type": "nominal", "legend": null,
              "scale": {"domain": ["Fed group", "Fasted group", "Fasted + Senktide group"], "range": ["#000000", "transparent", "transparent"]}}
          }
        },
        {
          "data": {"name": "bars"},
          "transform": [{"filter": "datum.gene == 'Pdyn'"}],
          "mark": {"type": "rule", "color": "#808080", "strokeWidth": 1.5},
          "encoding": {
            "x": {"field": "group", "type": "nominal", "sort": null},
            "y": {"field": "lo", "type": "quantitative", "scale": {"domain": [0, 1.4]}},
            "y2": {"field": "hi"}
          }
        },
        {
          "data": {"name": "bars"},
          "transform": [{"filter": "datum.gene == 'Pdyn'"}, {"fold": ["lo", "hi"], "as": ["k", "v"]}],
          "mark": {"type": "tick", "color": "#808080", "thickness": 1.5, "size": 10},
          "encoding": {
            "x": {"field": "group", "type": "nominal", "sort": null},
            "y": {"field": "v", "type": "quantitative", "scale": {"domain": [0, 1.4]}}
          }
        },
        {
          "data": {"name": "brackets"},
          "transform": [{"filter": "datum.gene == 'Pdyn'"}],
          "mark": {"type": "rule", "color": "black", "strokeWidth": 2, "strokeCap": "square"},
          "encoding": {
            "x": {"field": "from", "type": "nominal", "bandPosition": 0.5},
            "x2": {"field": "to", "bandPosition": 0.5},
            "y": {"field": "top", "type": "quantitative", "scale": {"domain": [0, 1.4]}}
          }
        },
        {
          "data": {"name": "brackets"},
          "transform": [{"filter": "datum.gene == 'Pdyn'"}],
          "mark": {"type": "rule", "color": "black", "strokeWidth": 2, "strokeCap": "square"},
          "encoding": {
            "x": {"field": "from", "type": "nominal", "bandPosition": 0.5},
            "y": {"field": "top", "type": "quantitative", "scale": {"domain": [0, 1.4]}},
            "y2": {"field": "lb"}
          }
        },
        {
          "data": {"name": "brackets"},
          "transform": [{"filter": "datum.gene == 'Pdyn'"}],
          "mark": {"type": "rule", "color": "black", "strokeWidth": 2, "strokeCap": "square"},
          "encoding": {
            "x": {"field": "to", "type": "nominal", "bandPosition": 0.5},
            "y": {"field": "top", "type": "quantitative", "scale": {"domain": [0, 1.4]}},
            "y2": {"field": "rb"}
          }
        },
        {
          "data": {"name": "stars"},
          "transform": [{"filter": "datum.gene == 'Pdyn' && datum.which == 'outer'"}],
          "mark": {"type": "text", "font": "Liberation Sans", "fontWeight": "bold", "fontSize": 48, "baseline": "alphabetic", "align": "center", "color": "black"},
          "encoding": {
            "x": {"field": "at", "type": "nominal", "bandPosition": 0.5},
            "y": {"field": "y", "type": "quantitative", "scale": {"domain": [0, 1.4]}},
            "text": {"field": "label"}
          }
        },
        {
          "data": {"name": "stars"},
          "transform": [{"filter": "datum.gene == 'Pdyn' && datum.which == 'inner'"}],
          "mark": {"type": "text", "font": "Liberation Sans", "fontWeight": "bold", "fontSize": 48, "baseline": "alphabetic", "align": "center", "color": "black"},
          "encoding": {
            "x": {"field": "at", "type": "nominal", "bandPosition": 1.102},
            "y": {"field": "y", "type": "quantitative", "scale": {"domain": [0, 1.4]}},
            "text": {"field": "label"}
          }
        }
      ]
    }
  ]
}
